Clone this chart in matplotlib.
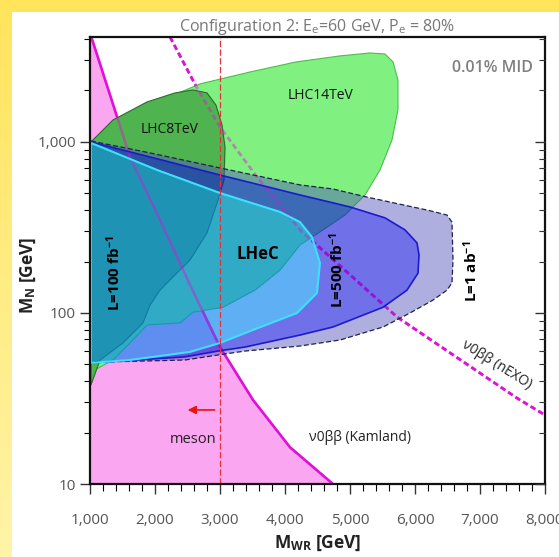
import numpy as np
import matplotlib
matplotlib.use("Agg")
import matplotlib.pyplot as plt
from matplotlib.patches import Polygon, PathPatch
from matplotlib.path import Path
from matplotlib.ticker import FixedLocator, FuncFormatter, LogLocator, NullFormatter

plt.rcParams['font.family'] = ['Open Sans', 'DejaVu Sans']
plt.rcParams['mathtext.fontset'] = 'custom'
plt.rcParams['mathtext.rm'] = 'Open Sans'
plt.rcParams['mathtext.bf'] = 'Open Sans:bold'
plt.rcParams['mathtext.it'] = 'Open Sans:italic'

# ---- neutrinoless double beta decay limits (M_WR [GeV], M_N [GeV])
kamland_mwr = [1015, 1308, 1615, 2077, 2538, 3000, 3508, 4077, 4738]
kamland_mn = [4170, 1883, 817, 350, 146, 63.2, 31, 16.4, 10]

nexo_mwr = [2231, 2646, 3000, 3569, 4231, 5723, 7569, 8000]
nexo_mn = [4110, 2070, 1224, 624, 306, 94.8, 31.8, 25.3]

# ---- LHC sensitivity regions
lhc14_mwr = [1015, 1431, 1923, 2692, 3462, 4169, 4846, 5308, 5538, 5662, 5738, 5738,
             5646, 5462, 5231, 4923, 4538, 4231, 3923, 3538, 3046, 2585, 2385, 1877,
             1615, 1354, 1015]
lhc14_mn = [1000, 1291, 1644, 2185, 2566, 2937, 3186, 3315, 3270, 2937, 2305, 1540,
            1027, 686, 490, 374, 298, 250, 178, 136, 108, 101, 87.5, 85.1,
            66.8, 53.1, 45.2]

lhc8_mwr = [1015, 1354, 1877, 2308, 2585, 2800, 2938, 3031, 3077, 3062, 2969, 2800,
            2538, 2231, 2077, 1923, 1815, 1508, 1154, 1015]
lhc8_mn = [1000, 1345, 1714, 1936, 2015, 1936, 1644, 1256, 935, 600, 458, 294,
           204, 156, 136, 111, 87.5, 66.8, 53.1, 37.9]

# ---- LHeC sensitivity regions for three integrated luminosities
lhec1ab_mwr = [1015, 1923, 3000, 4231, 4738, 5262, 6185, 6492, 6569, 6585, 6569, 6492,
               6277, 5923, 5508, 4846, 4231, 3385, 2969, 2462, 1231, 1015]
lhec1ab_mn = [1013, 863, 705, 561, 531, 476, 400, 374, 340, 204, 150, 136,
              119, 100, 82.8, 69.5, 64.1, 59.9, 56.8, 53.1, 51.7, 51.7]

lhec500_mwr = [1015, 1923, 3000, 4231, 5000, 5538, 5846, 6031, 6062, 6046, 5877, 5508,
               4738, 4231, 3385, 2969, 2462, 1231, 1015]
lhec500_mn = [1000, 817, 641, 490, 417, 360, 306, 257, 218, 171, 136, 108,
              82.8, 74.3, 63.2, 59.9, 55.4, 51.7, 51.1]

lhec100_mwr = [1015, 2031, 3000, 3923, 4231, 4415, 4538, 4492, 4185, 3508, 3000, 2538,
               1615, 1015]
lhec100_mn = [987, 686, 503, 390, 340, 278, 196, 131, 100, 79.6, 66.8, 59.2,
              53.1, 51.1]

meson_mwr = 3000

x_ticks = [1000, 2000, 3000, 4000, 5000, 6000, 7000, 8000]
y_ticks = [10, 100, 1000]


def orient(xs, ys):
    """Signed area in (x, log y); used to give holes the opposite winding."""
    x = np.asarray(xs, float)
    y = np.log10(np.asarray(ys, float))
    return 0.5 * np.sum(x * np.roll(y, -1) - np.roll(x, -1) * y)


def ring_path(ox, oy, ix=None, iy=None):
    outer = list(zip(ox, oy))
    verts = outer + [outer[0]]
    codes = [Path.MOVETO] + [Path.LINETO] * (len(outer) - 1) + [Path.CLOSEPOLY]
    if ix is not None:
        inner = list(zip(ix, iy))
        if np.sign(orient(ox, oy)) == np.sign(orient(ix, iy)):
            inner = inner[::-1]
        verts += inner + [inner[0]]
        codes += [Path.MOVETO] + [Path.LINETO] * (len(inner) - 1) + [Path.CLOSEPOLY]
    return Path(verts, codes)


W, H = 559, 557
fig = plt.figure(figsize=(W / 100, H / 100), dpi=100)
fig.patch.set_facecolor('white')

# yellow frame along the top and left edges
band = 12
t = np.linspace(0, 1, H)[:, None]
top_c = np.array([255, 228, 92]) / 255
bot_c = np.array([255, 244, 168]) / 255
left = np.repeat((top_c * (1 - t) + bot_c * t)[:, None, :], band, axis=1)
fig.figimage(left, xo=0, yo=0, zorder=0, origin='upper')
topband = np.ones((band, W, 3)) * top_c
fig.figimage(topband, xo=0, yo=H - band, zorder=0)

ax = fig.add_axes([90 / W, 1 - 484 / H, (545 - 90) / W, (484 - 37) / H])
ax.set_facecolor('none')
ax.set_yscale('log')
ax.set_xlim(1000, 8000)
ax.set_ylim(10, 4110)

# Kamland excluded region
pink = list(zip([1000, 1000] + kamland_mwr + [4738], [10, 4170] + kamland_mn + [10]))
ax.add_patch(Polygon(pink, closed=True, facecolor='#fba6f1', edgecolor='none', zorder=1))
ax.plot(kamland_mwr, kamland_mn, color='#e010d8', lw=1.8, zorder=2)
ax.plot(nexo_mwr, nexo_mn, color='#e010d8', lw=2.0, ls=(0, (2.0, 1.2)), zorder=2)

# LHC regions (opaque)
ax.add_patch(Polygon(list(zip(lhc14_mwr, lhc14_mn)), closed=True,
                     facecolor='#80f080', edgecolor='#4cbc4c', lw=0.8, zorder=3))
ax.add_patch(Polygon(list(zip(lhc8_mwr, lhc8_mn)), closed=True,
                     facecolor='#4fb34f', edgecolor='#2a6a2a', lw=0.8, zorder=4))

# LHeC regions: translucent bands between the luminosity contours
ax.add_patch(PathPatch(ring_path(lhec1ab_mwr, lhec1ab_mn, lhec500_mwr, lhec500_mn),
                       facecolor=(79 / 255, 79 / 255, 186 / 255), alpha=0.45,
                       edgecolor='none', zorder=5))
ax.add_patch(PathPatch(ring_path(lhec500_mwr, lhec500_mn, lhec100_mwr, lhec100_mn),
                       facecolor=(17 / 255, 17 / 255, 217 / 255), alpha=0.6,
                       edgecolor='none', zorder=5))
ax.add_patch(PathPatch(ring_path(lhec100_mwr, lhec100_mn),
                       facecolor=(2 / 255, 129 / 255, 238 / 255), alpha=0.63,
                       edgecolor='none', zorder=5))

# limit lines seen through the translucent bands
ax.plot(kamland_mwr, kamland_mn, color='#e010d8', lw=1.8, alpha=0.45, zorder=6)
ax.plot(nexo_mwr, nexo_mn, color='#e010d8', lw=2.0, ls=(0, (2.0, 1.2)), alpha=0.45, zorder=6)

# contour outlines
ax.add_patch(Polygon(list(zip(lhec1ab_mwr, lhec1ab_mn)), closed=True,
                     facecolor='none', edgecolor='#202050', lw=0.9, ls=(0, (4, 2)), zorder=8))
ax.add_patch(Polygon(list(zip(lhec500_mwr, lhec500_mn)), closed=True,
                     facecolor='none', edgecolor='#1a1ad0', lw=1.2, zorder=8))
ax.add_patch(Polygon(list(zip(lhec100_mwr, lhec100_mn)), closed=True,
                     facecolor='none', edgecolor='#3ee0ff', lw=1.5, zorder=8))

# meson bound
ax.axvline(meson_mwr, color='#e8303a', lw=0.9, ls=(0, (5, 2)), zorder=9)
ax.annotate('', xy=(2460, 27.1), xytext=(2960, 27.1),
            arrowprops=dict(arrowstyle='-|>', color='#ee1111', lw=1.2,
                            mutation_scale=12), zorder=9)

# text labels
ax.text(4550, 1860, 'LHC14TeV', fontsize=10, color='#111111', ha='center', va='center', zorder=10)
ax.text(2231, 1175, 'LHC8TeV', fontsize=10, color='#111111', ha='center', va='center', zorder=10)
ax.text(7185, 2700, '0.01% MID', fontsize=11.5, color='#808080', fontweight='semibold',
        ha='center', va='center', zorder=10)
ax.text(1370, 171, r'L=100 fb$^{\mathbf{-1}}$', fontsize=11, fontweight='bold', rotation=90,
        ha='center', va='center', zorder=10)
ax.text(3580, 220, 'LHeC', fontsize=12, fontweight='bold', ha='center', va='center', zorder=10)
ax.text(4800, 178, r'L=500 fb$^{\mathbf{-1}}$', fontsize=11, fontweight='bold', rotation=90,
        ha='center', va='center', zorder=10)
ax.text(6850, 176, r'L=1 ab$^{\mathbf{-1}}$', fontsize=11, fontweight='bold', rotation=90,
        ha='center', va='center', zorder=10)
ax.text(7262, 49.7, 'ν0ββ (nEXO)', fontsize=10, color='#222222', rotation=-32,
        ha='center', va='center', zorder=10)
ax.text(5150, 18.6, 'ν0ββ (Kamland)', fontsize=10, color='#222222', ha='center', va='center', zorder=10)
ax.text(2585, 18.1, 'meson', fontsize=10.5, color='#222222', ha='center', va='center', zorder=10)

# axes styling
for s in ax.spines.values():
    s.set_linewidth(1.6)
    s.set_color('#111111')
    s.set_zorder(11)
ax.xaxis.set_major_locator(FixedLocator(x_ticks))
ax.xaxis.set_minor_locator(FixedLocator(np.arange(1000, 8001, 200)))
ax.xaxis.set_major_formatter(FuncFormatter(lambda v, p: f'{int(v):,}'))
ax.yaxis.set_major_locator(FixedLocator(y_ticks))
ax.yaxis.set_minor_locator(LogLocator(base=10, subs=np.arange(2, 10)))
ax.yaxis.set_minor_formatter(NullFormatter())
ax.yaxis.set_major_formatter(FuncFormatter(lambda v, p: f'{int(v):,}'))
ax.tick_params(axis='both', which='major', labelsize=11, labelcolor='#555555', color='#333333')
ax.tick_params(axis='x', which='major', direction='out', length=7, width=1.0, top=False, pad=14)
ax.tick_params(axis='x', which='minor', direction='out', length=5, width=0.8, top=False)
ax.tick_params(axis='y', which='major', direction='out', length=7, width=1.0, right=False, pad=3)
ax.tick_params(axis='y', which='minor', direction='out', length=4, width=0.8, right=False)

# right-hand ticks pointing into the plot
ax2 = ax.twinx()
ax2.set_yscale('log')
ax2.set_ylim(ax.get_ylim())
ax2.yaxis.set_major_locator(FixedLocator(y_ticks))
ax2.yaxis.set_minor_locator(LogLocator(base=10, subs=np.arange(2, 10)))
ax2.tick_params(axis='y', which='both', direction='in', labelright=False, color='#333333')
ax2.tick_params(axis='y', which='major', length=7, width=1.0)
ax2.tick_params(axis='y', which='minor', length=4, width=0.8)
for s in ax2.spines.values():
    s.set_visible(False)

ax.set_title(r'Configuration 2: E$_{\mathrm{e}}$=60 GeV, P$_{\mathrm{e}}$ = 80%',
             fontsize=11.5, color='#777777', pad=2)
ax.set_xlabel(r'M$_{\mathbf{WR}}$ [GeV]', fontsize=12.5, fontweight='bold', color='#222222')
ax.set_ylabel(r'M$_{\mathbf{N}}$ [GeV]', fontsize=12.5, fontweight='bold', color='#222222')
ax.xaxis.label.set_va('center')
ax.xaxis.set_label_coords(0.501, -(543 - 484) / 447)
ax.yaxis.label.set_va('center')
ax.yaxis.label.set_ha('center')
ax.yaxis.set_label_coords((28 - 90) / 455, 1 - (275 - 37) / 447)

fig.savefig('out.png', dpi=100, facecolor='white')
